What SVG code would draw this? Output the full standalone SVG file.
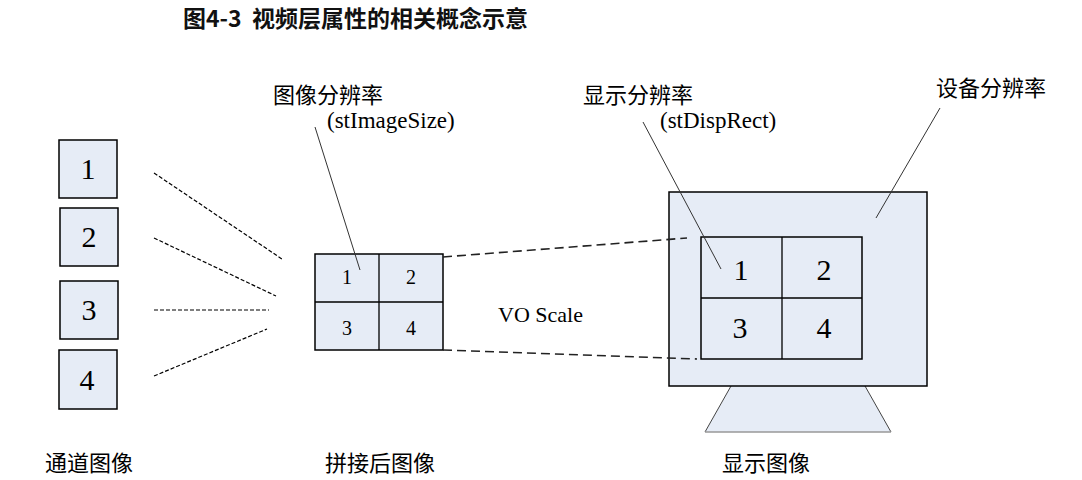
<svg xmlns="http://www.w3.org/2000/svg" width="1082" height="480" viewBox="0 0 1082 480">
<style>
.bg{fill:#ffffff}
.box{fill:#e6ecf6;stroke:#000;stroke-width:1.5}
.grid{fill:none;stroke:#000;stroke-width:1.3}
.num{font-family:"Liberation Serif","Noto Sans CJK SC",serif;fill:#000;text-anchor:middle}
.big{font-size:30px}
.small{font-size:20px}
.lbl{font-family:"Liberation Serif","Noto Sans CJK SC",serif;font-size:22px;fill:#000}
.en{font-family:"Liberation Serif",serif;font-size:23px;fill:#000}
.title{font-family:"Noto Sans CJK SC","Noto Sans",sans-serif;font-size:23px;font-weight:bold;fill:#111}
.dshort{fill:none;stroke:#000;stroke-width:1.2;stroke-dasharray:4 2}
.dlong{fill:none;stroke:#222;stroke-width:1.6;stroke-dasharray:9 5}
.lead{fill:none;stroke:#333;stroke-width:1}
</style>
<rect class="bg" x="0" y="0" width="1082" height="480"/>
<text class="title" x="183" y="27">图4-3</text>
<text class="title" x="252" y="27">视频层属性的相关概念示意</text>

<g id="channel1"><rect class="box" x="59" y="140" width="58" height="58"/><text class="num big" x="88" y="179">1</text></g>
<g id="channel2"><rect class="box" x="60" y="208" width="58" height="58"/><text class="num big" x="89" y="247">2</text></g>
<g id="channel3"><rect class="box" x="60" y="281" width="58" height="58"/><text class="num big" x="89" y="320">3</text></g>
<g id="channel4"><rect class="box" x="59" y="350" width="58" height="59"/><text class="num big" x="87" y="390">4</text></g>
<g id="label-channel"><text class="lbl" x="45" y="471">通道图像</text></g>

<g id="stitched">
<rect class="box" x="315" y="254" width="128" height="96"/>
<path class="grid" d="M379 254V350M315 302H443"/>
<text class="num small" x="347" y="284">1</text>
<text class="num small" x="411" y="284">2</text>
<text class="num small" x="347" y="335">3</text>
<text class="num small" x="411" y="335">4</text>
</g>
<g id="label-stitched"><text class="lbl" x="325" y="471">拼接后图像</text></g>
<g id="label-imagesize"><text class="lbl" x="273" y="103">图像分辨率</text><text class="en" x="327" y="128">(stImageSize)</text></g>

<g id="vo-scale"><text class="en" x="498" y="322" style="font-size:22px">VO Scale</text></g>

<g id="monitor">
<path d="M731 386L705 432H891L865 386Z" fill="#e6ecf6" stroke="none"/>
<path d="M731 386L705 432M865 386L891 432" fill="none" stroke="#444" stroke-width="1"/>
<path d="M705 432H891" fill="none" stroke="#999" stroke-width="1.5"/>
<rect class="box" x="669" y="192" width="258" height="194"/>
<rect class="box" x="701" y="237" width="161" height="122"/>
<path class="grid" d="M782 237V359M701 298H862"/>
<text class="num big" x="741" y="280">1</text>
<text class="num big" x="824" y="280">2</text>
<text class="num big" x="740" y="338">3</text>
<text class="num big" x="824" y="338">4</text>
</g>
<g id="label-display"><text class="lbl" x="722" y="471">显示图像</text></g>
<g id="label-disprect"><text class="lbl" x="583" y="103">显示分辨率</text><text class="en" x="660" y="128">(stDispRect)</text></g>
<g id="label-device"><text class="lbl" x="936" y="96">设备分辨率</text></g>

<g id="connectors">
<path class="dshort" d="M154 173L282 259"/>
<path class="dshort" d="M154 238L276 296"/>
<path class="dshort" d="M154 310H269"/>
<path class="dshort" d="M154 376L267 329"/>
<path class="dlong" d="M443 257L687 238"/>
<path class="dlong" d="M443 350L697 359"/>
<path class="lead" d="M315 127L360 270"/>
<path class="lead" d="M643 122L721 269"/>
<path class="lead" d="M940 108L876 218"/>
</g>
</svg>
